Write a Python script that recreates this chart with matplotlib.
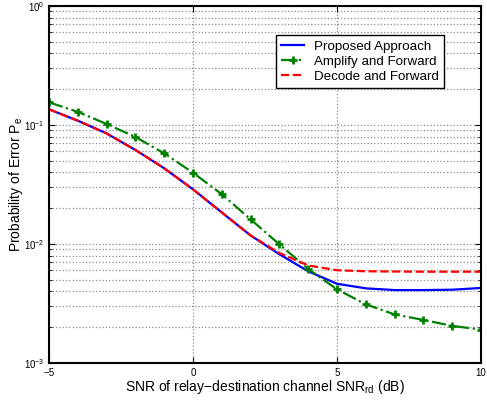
import matplotlib
matplotlib.use("Agg")
import matplotlib.pyplot as plt
from matplotlib.ticker import LogLocator, NullFormatter, FixedLocator

plt.rcParams['font.family'] = ['Liberation Sans', 'DejaVu Sans']
plt.rcParams['mathtext.fontset'] = 'custom'
plt.rcParams['mathtext.rm'] = 'Liberation Sans'
plt.rcParams['mathtext.it'] = 'Liberation Sans'

# SNR of relay-destination channel (dB)
snr = [-5, -4, -3, -2, -1, 0, 1, 2, 3, 4, 5, 6, 7, 8, 9, 10]

# probability of error per scheme
proposed = [0.1355, 0.1087, 0.085, 0.0617, 0.0433, 0.0288, 0.0184, 0.0118,
            0.0082, 0.0059, 0.00463, 0.00424, 0.00410, 0.00410, 0.00413, 0.00427]
amplify_fwd = [0.155, 0.129, 0.102, 0.0793, 0.0578, 0.0397, 0.0262, 0.0161,
               0.00993, 0.00617, 0.00416, 0.00311, 0.00256, 0.00230, 0.00205, 0.00191]
decode_fwd = [0.1355, 0.1087, 0.085, 0.0617, 0.0433, 0.0288, 0.0184, 0.0118,
              0.0084, 0.0066, 0.00602, 0.00590, 0.00587, 0.00585, 0.00585, 0.00585]

fig = plt.figure(figsize=(4.87, 4.0), dpi=100)
ax = fig.add_axes([0.1006, 0.0925, 0.8871, 0.8925])

ax.semilogy(snr, proposed, color='blue', lw=1.6, label='Proposed Approach')
ax.semilogy(snr, amplify_fwd, color=(0, 0.5, 0), lw=1.6, ls='-.', marker='+',
            ms=5.5, mew=2, label='Amplify and Forward')
ax.semilogy(snr, decode_fwd, color='red', lw=1.6, ls='--', label='Decode and Forward')

ax.set_xlim(-5, 10)
ax.set_ylim(1e-3, 1)
ax.xaxis.set_major_locator(FixedLocator([-5, 0, 5, 10]))
ax.set_xticklabels(['\u22125', '0', '5', '10'])
ax.yaxis.set_major_locator(LogLocator(base=10, numticks=10))
ax.yaxis.set_minor_locator(LogLocator(base=10, subs=range(2, 10), numticks=10))
ax.yaxis.set_minor_formatter(NullFormatter())

ax.grid(True, which='major', ls=':', color='0.55', lw=0.9)
ax.grid(True, which='minor', axis='y', ls=':', color='0.55', lw=0.9)
ax.tick_params(which='both', direction='in', top=True, right=True, labelsize=7)
ax.tick_params(which='major', length=4)
ax.tick_params(which='minor', length=2)
for s in ax.spines.values():
    s.set_linewidth(1.5)

ax.set_xlabel('SNR of relay\u2212destination channel SNR$_{\\mathrm{rd}}$ (dB)', fontsize=10, labelpad=0)
ax.set_ylabel('Probability of Error P$_{\\mathrm{e}}$', fontsize=10, labelpad=-1)

leg = ax.legend(loc='upper left', bbox_to_anchor=(0.5255, 0.919), fontsize=9.6,
                fancybox=False, framealpha=1, edgecolor='black', borderpad=0.4,
                labelspacing=0.2, handlelength=1.7, handletextpad=0.75, borderaxespad=0)
leg.get_frame().set_linewidth(1.0)

fig.savefig('out.png', dpi=100)
